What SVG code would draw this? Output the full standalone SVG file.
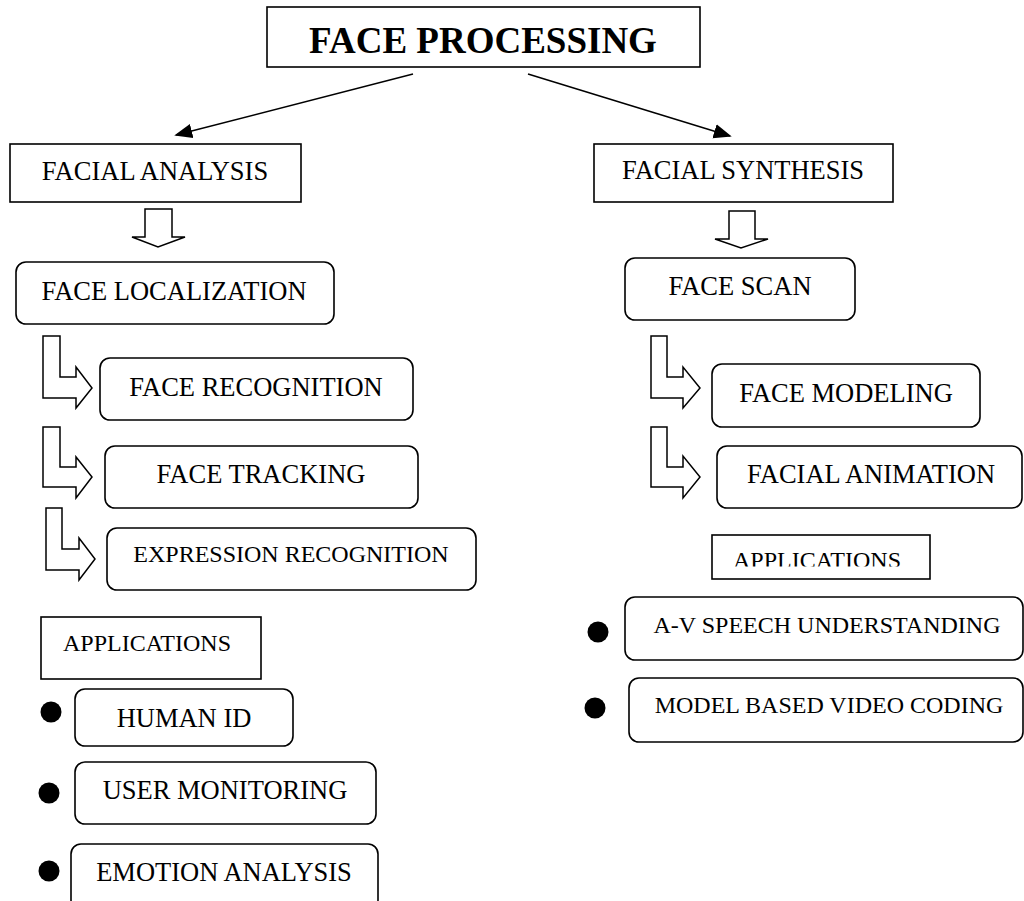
<svg xmlns="http://www.w3.org/2000/svg" width="1024" height="901" viewBox="0 0 1024 901">
  <defs>
    <style>
      .box { fill: #fff; stroke: #000; stroke-width: 1.6; }
      .lbl { font-family: "Liberation Serif", "Times New Roman", serif; font-size: 26.5px; fill: #000; text-anchor: middle; }
      .sm { font-size: 24px; }
      .title { font-family: "Liberation Serif", "Times New Roman", serif; font-size: 37px; font-weight: bold; fill: #000; text-anchor: middle; }
      .link { stroke: #000; stroke-width: 1.5; fill: none; }
      .hollow { fill: #fff; stroke: #000; stroke-width: 1.5; stroke-linejoin: miter; }
      .dot { fill: #000; }
    </style>
    <marker id="head" viewBox="0 0 10 10" refX="9" refY="5" markerWidth="18" markerHeight="18" markerUnits="userSpaceOnUse" orient="auto">
      <path d="M0,1 L10,5 L0,9 Z" fill="#000"/>
    </marker>
    <clipPath id="appsClip">
      <rect x="700" y="530" width="260" height="36.5"/>
    </clipPath>
  </defs>

  <rect width="1024" height="901" fill="#fff"/>

  <!-- connectors -->
  <g id="connectors">
    <line class="link" x1="413" y1="74" x2="176" y2="135" marker-end="url(#head)"/>
    <line class="link" x1="528" y1="74" x2="730" y2="136" marker-end="url(#head)"/>
    <!-- hollow down arrows -->
    <path class="hollow" d="M145,209 H172 V237 H185 L158,247 L132,237 H145 Z"/>
    <path class="hollow" d="M729,211 H755 V239 H768 L741,248 L715,239 H729 Z"/>
    <!-- hollow bent arrows, analysis side -->
    <path class="hollow" d="M43,336 H60 V377 H76 V367 L92,388 L76,408 V398 H43 Z"/>
    <path class="hollow" d="M43,427 H60 V467 H76 V457 L92,477 L76,498 V487 H43 Z"/>
    <path class="hollow" d="M46,508 H62 V549 H79 V538 L95,559 L79,580 V570 H46 Z"/>
    <!-- hollow bent arrows, synthesis side -->
    <path class="hollow" d="M651,336 H667 V377 H683 V367 L700,388 L683,408 V398 H651 Z"/>
    <path class="hollow" d="M651,427 H667 V467 H683 V456 L700,477 L683,498 V487 H651 Z"/>
  </g>

  <g id="face-processing">
    <rect class="box" x="267" y="7" width="433" height="60"/>
    <text class="title" x="483" y="53">FACE PROCESSING</text>
  </g>

  <g id="facial-analysis">
    <rect class="box" x="10" y="144" width="291" height="58"/>
    <text class="lbl" x="155" y="180">FACIAL ANALYSIS</text>
  </g>

  <g id="facial-synthesis">
    <rect class="box" x="594" y="144" width="299" height="58"/>
    <text class="lbl" x="743" y="179">FACIAL SYNTHESIS</text>
  </g>

  <g id="face-localization">
    <rect class="box" x="16" y="262" width="318" height="62" rx="10"/>
    <text class="lbl" x="174" y="300">FACE LOCALIZATION</text>
  </g>

  <g id="face-scan">
    <rect class="box" x="625" y="258" width="230" height="62" rx="10"/>
    <text class="lbl" x="740" y="295">FACE SCAN</text>
  </g>

  <g id="face-recognition">
    <rect class="box" x="100" y="358" width="313" height="62" rx="10"/>
    <text class="lbl" x="256" y="396">FACE RECOGNITION</text>
  </g>

  <g id="face-tracking">
    <rect class="box" x="105" y="446" width="313" height="62" rx="10"/>
    <text class="lbl" x="261" y="483">FACE TRACKING</text>
  </g>

  <g id="expression-recognition">
    <rect class="box" x="107" y="528" width="369" height="62" rx="10"/>
    <text class="lbl sm" x="291" y="562">EXPRESSION RECOGNITION</text>
  </g>

  <g id="face-modeling">
    <rect class="box" x="712" y="364" width="268" height="63" rx="10"/>
    <text class="lbl" x="846" y="402">FACE MODELING</text>
  </g>

  <g id="facial-animation">
    <rect class="box" x="717" y="446" width="305" height="62" rx="10"/>
    <text class="lbl" x="871" y="483">FACIAL ANIMATION</text>
  </g>

  <g id="applications-analysis">
    <rect class="box" x="41" y="617" width="220" height="62"/>
    <text class="lbl sm" x="147" y="651">APPLICATIONS</text>
  </g>

  <g id="applications-synthesis">
    <rect class="box" x="712" y="535" width="218" height="44"/>
    <text class="lbl sm" x="817" y="568" clip-path="url(#appsClip)">APPLICATIONS</text>
  </g>

  <g id="human-id">
    <circle class="dot" cx="51" cy="712" r="10.5"/>
    <rect class="box" x="75" y="689" width="218" height="57" rx="10"/>
    <text class="lbl" x="184" y="727">HUMAN ID</text>
  </g>

  <g id="user-monitoring">
    <circle class="dot" cx="49" cy="793" r="10.5"/>
    <rect class="box" x="75" y="762" width="301" height="62" rx="10"/>
    <text class="lbl" x="225" y="799">USER MONITORING</text>
  </g>

  <g id="emotion-analysis">
    <circle class="dot" cx="49" cy="871" r="10.5"/>
    <rect class="box" x="71" y="844" width="307" height="66" rx="10"/>
    <text class="lbl" x="224" y="881">EMOTION ANALYSIS</text>
  </g>

  <g id="av-speech">
    <circle class="dot" cx="598" cy="632" r="10.5"/>
    <rect class="box" x="625" y="597" width="398" height="63" rx="10"/>
    <text class="lbl sm" x="827" y="633">A-V SPEECH UNDERSTANDING</text>
  </g>

  <g id="video-coding">
    <circle class="dot" cx="595" cy="708" r="10.5"/>
    <rect class="box" x="629" y="678" width="394" height="64" rx="10"/>
    <text class="lbl sm" x="829" y="713">MODEL BASED VIDEO CODING</text>
  </g>
</svg>
